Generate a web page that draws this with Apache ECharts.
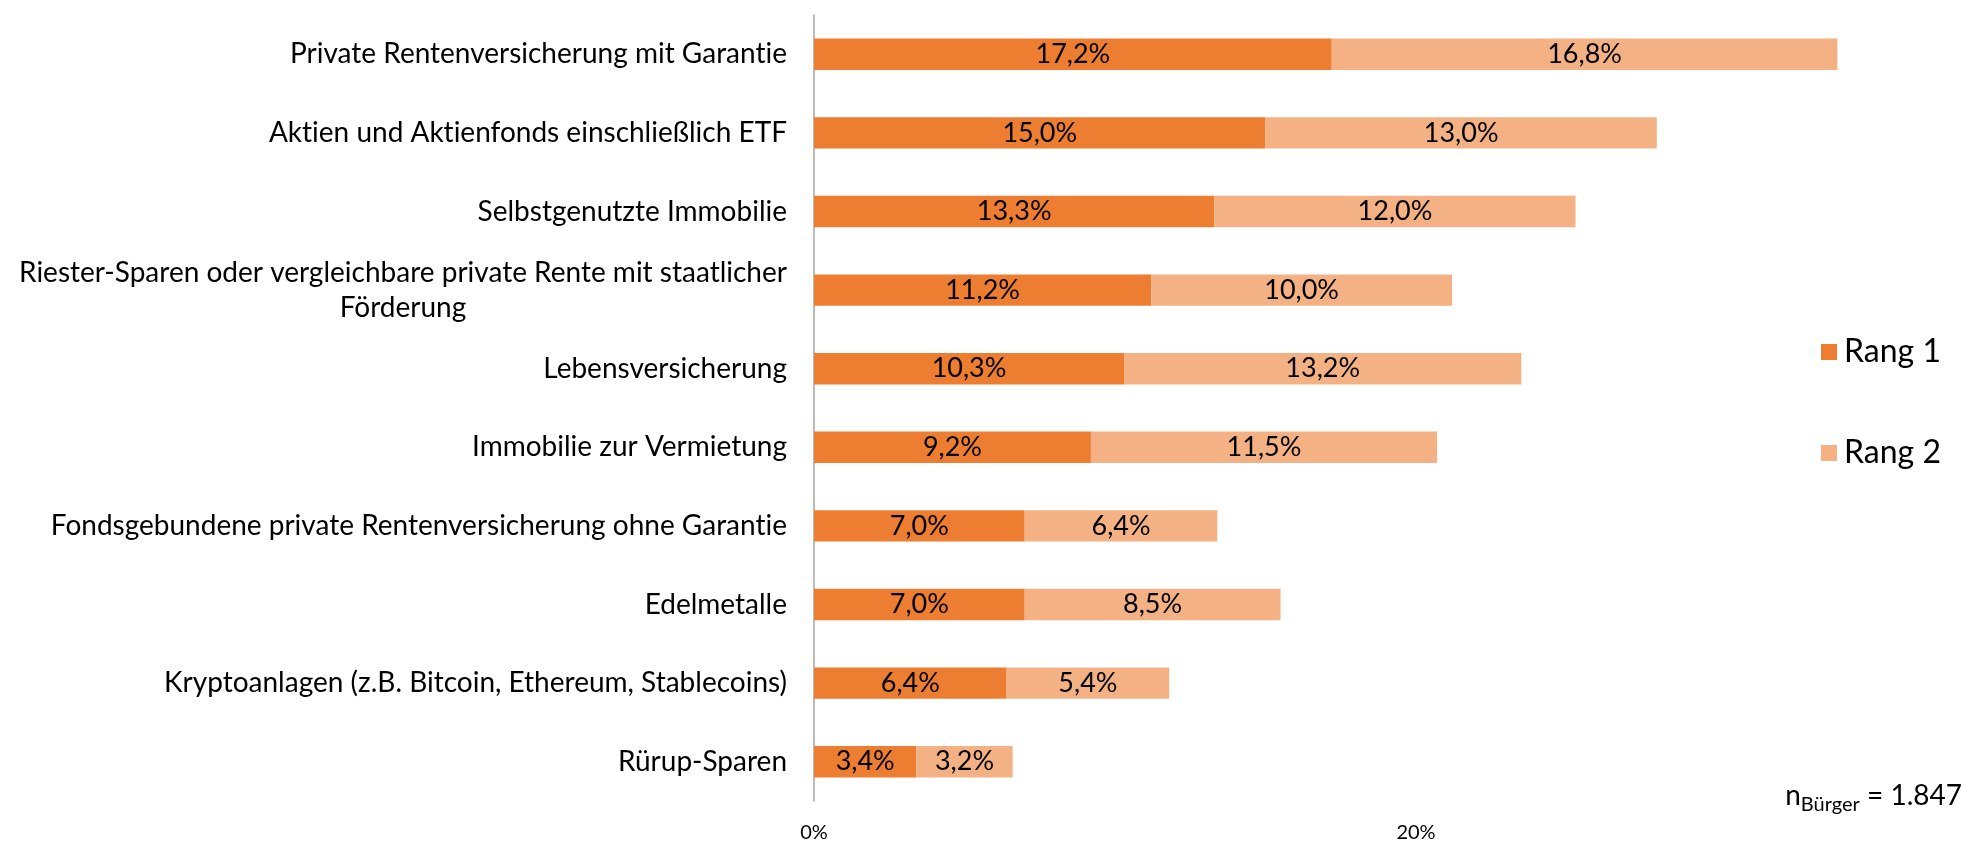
<!DOCTYPE html>
<html>
<head>
<meta charset="utf-8">
<script src="https://cdn.jsdelivr.net/npm/echarts@6/dist/echarts.min.js"></script>
<style>
html, body { margin: 0; padding: 0; background: #fff; }
#chart { width: 1964px; height: 843px; }
</style>
</head>
<body>
<div id="chart"></div>
<script>
var categories = [
	'Private Rentenversicherung mit Garantie',
	'Aktien und Aktienfonds einschließlich ETF',
	'Selbstgenutzte Immobilie',
	'Riester-Sparen oder vergleichbare private Rente mit staatlicher\nFörderung',
	'Lebensversicherung',
	'Immobilie zur Vermietung',
	'Fondsgebundene private Rentenversicherung ohne Garantie',
	'Edelmetalle',
	'Kryptoanlagen (z.B. Bitcoin, Ethereum, Stablecoins)',
	'Rürup-Sparen'
];
var rang1 = [17.2, 15.0, 13.3, 11.2, 10.3, 9.2, 7.0, 7.0, 6.4, 3.4];
var rang2 = [16.8, 13.0, 12.0, 10.0, 13.2, 11.5, 6.4, 8.5, 5.4, 3.2];
var xTicks = [0, 20];

// Lato would draw a "ti" ligature, the original has none
function noLig(s) { return s.replace(/ti/g, 't\u200Ci'); }

var ctx = document.createElement('canvas').getContext('2d');
function textWidth(s, font) { ctx.font = font; return ctx.measureText(s).width; }

var dom = document.getElementById('chart');
var myChart = echarts.init(dom);

var labelStyle = {
	show: true,
	position: 'inside',
	color: '#000',
	fontFamily: 'Lato',
	fontSize: 27,
	formatter: function (p) { return p.value.toFixed(1).replace('.', ',') + '%'; }
};

// sample size note: n with subscript, right aligned at the bottom
var nFont = '28px Lato', subFont = '20px Lato';
var wN = textWidth('n', nFont), wS = textWidth('Bürger', subFont), wE = textWidth(' = 1.847', nFont);
var nX = 1962 - (wN + wS + wE), nTop = 782;

var option = {
	animation: false,
	backgroundColor: '#fff',
	grid: { left: 814, top: 15, height: 787, width: 36 * 30.1, containLabel: false },
	legend: {
		orient: 'vertical',
		left: 1816,
		top: 331,
		itemWidth: 16,
		itemHeight: 16,
		itemGap: 69,
		icon: 'rect',
		textStyle: { fontFamily: 'Lato', fontSize: 32, color: '#000', padding: [0, 0, 0, 2] },
		data: ['Rang 1', 'Rang 2']
	},
	xAxis: {
		type: 'value',
		min: 0,
		max: 36,
		interval: 20,
		axisLine: { show: false },
		axisTick: { show: false },
		splitLine: { show: false },
		axisLabel: {
			margin: 22,
			color: '#000',
			fontFamily: 'Lato',
			fontSize: 20,
			formatter: function (v) { return xTicks.indexOf(v) >= 0 ? v + '%' : ''; }
		}
	},
	yAxis: {
		type: 'category',
		inverse: true,
		data: categories,
		axisLine: { show: true, lineStyle: { color: '#A6A6A6', width: 1.5 } },
		axisTick: { show: false },
		axisLabel: {
			margin: 27,
			color: '#000',
			fontFamily: 'Lato',
			fontSize: 28,
			lineHeight: 35,
			formatter: function (v) {
				if (v.indexOf('\n') < 0) return noLig(v);
				return v.split('\n').map(function (l) { return '{c|' + noLig(l) + '}'; }).join('\n');
			},
			rich: {
				c: {
					fontFamily: 'Lato',
					fontSize: 28,
					lineHeight: 35,
					color: '#000',
					align: 'center',
					width: Math.ceil(textWidth(noLig(categories[3].split('\n')[0]), '28px Lato'))
				}
			}
		}
	},
	series: [
		{
			name: 'Rang 1',
			type: 'bar',
			stack: 'total',
			barWidth: '40%',
			itemStyle: { color: '#ED7D31' },
			label: labelStyle,
			data: rang1
		},
		{
			name: 'Rang 2',
			type: 'bar',
			stack: 'total',
			barWidth: '40%',
			itemStyle: { color: '#F4B183' },
			label: labelStyle,
			data: rang2
		}
	],
	graphic: [
		{ type: 'text', x: nX, y: nTop, style: { text: 'n', font: nFont, fill: '#000', verticalAlign: 'top' } },
		{ type: 'text', x: nX + wN, y: nTop + 13, style: { text: 'Bürger', font: subFont, fill: '#000', verticalAlign: 'top' } },
		{ type: 'text', x: nX + wN + wS, y: nTop, style: { text: ' = 1.847', font: nFont, fill: '#000', verticalAlign: 'top' } }
	]
};
myChart.setOption(option);
</script>
</body>
</html>
